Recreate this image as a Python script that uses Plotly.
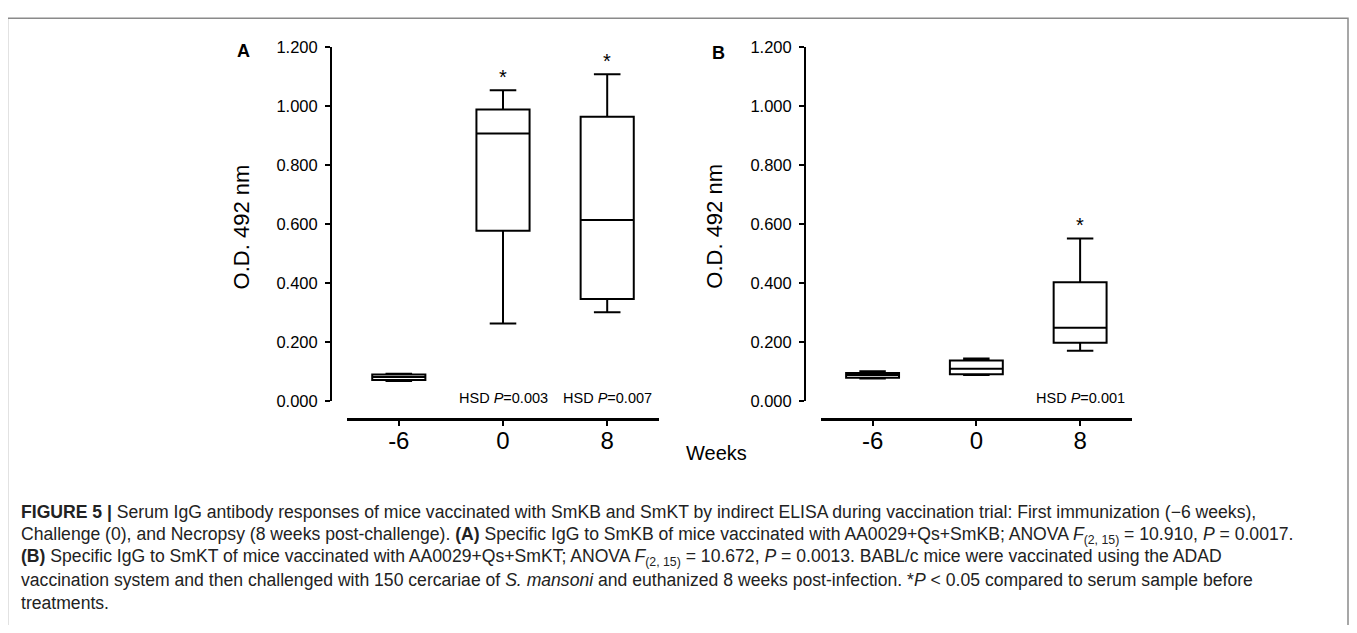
import plotly.graph_objects as go

# page has an 8px body margin; figure sized so the page is exactly 1357x633
OFF = 8
W, H = 1357 - 2 * OFF, 633 - 2 * OFF

weeks = ["-6", "0", "8"]
y_ticks = [0.0, 0.2, 0.4, 0.6, 0.8, 1.0, 1.2]

# Panel A: IgG to SmKB
a_low = [0.068, 0.263, 0.301]
a_q1 = [0.071, 0.577, 0.346]
a_med = [0.081, 0.907, 0.614]
a_q3 = [0.090, 0.988, 0.964]
a_high = [0.092, 1.054, 1.108]
a_star = [False, True, True]
a_hsd = ["", "HSD <i>P</i>=0.003", "HSD <i>P</i>=0.007"]

# Panel B: IgG to SmKT
b_low = [0.076, 0.088, 0.170]
b_q1 = [0.079, 0.091, 0.197]
b_med = [0.088, 0.109, 0.248]
b_q3 = [0.095, 0.137, 0.403]
b_high = [0.101, 0.144, 0.551]
b_star = [False, False, True]
b_hsd = ["", "", "HSD <i>P</i>=0.001"]

caption_lines = [
    "<b>FIGURE 5 |</b> Serum IgG antibody responses of mice vaccinated with SmKB and SmKT by indirect ELISA during vaccination trial: First immunization (\u22126 weeks),",
    "Challenge (0), and Necropsy (8 weeks post-challenge). <b>(A)</b> Specific IgG to SmKB of mice vaccinated with AA0029+Qs+SmKB; ANOVA <i>F</i><sub>(2, 15)</sub> = 10.910, <i>P</i> = 0.0017.",
    "<b>(B)</b> Specific IgG to SmKT of mice vaccinated with AA0029+Qs+SmKT; ANOVA <i>F</i><sub>(2, 15)</sub> = 10.672, <i>P</i> = 0.0013. BABL/c mice were vaccinated using the ADAD",
    "vaccination system and then challenged with 150 cercariae of <i>S. mansoni</i> and euthanized 8 weeks post-infection. *<i>P</i> &lt; 0.05 compared to serum sample before",
    "treatments.",
]

SANS = "Liberation Sans, Arial, Helvetica, sans-serif"


def px(x):
    return (x - OFF) / W


def py(y):
    return 1 - (y - OFF) / H


fig = go.Figure()

for xa, ya, low, q1, med, q3, high in [
    ("x", "y", a_low, a_q1, a_med, a_q3, a_high),
    ("x2", "y2", b_low, b_q1, b_med, b_q3, b_high),
]:
    fig.add_trace(go.Box(
        x=weeks, lowerfence=low, q1=q1, median=med, q3=q3, upperfence=high,
        xaxis=xa, yaxis=ya, width=0.51, whiskerwidth=0.5,
        fillcolor="white", line=dict(color="black", width=2),
        boxpoints=False, showlegend=False, hoverinfo="skip",
    ))

ydom = [py(403.5), py(39)]
axis_common = dict(showgrid=False, zeroline=False, showline=True, linecolor="black",
                   ticks="outside", tickcolor="black")
xcommon = dict(anchor="free", position=py(422), type="category", range=[-0.5, 2.5],
               linewidth=2.5, ticklen=5, tickwidth=2, ticklabelstandoff=-5,
               tickfont=dict(family=SANS, size=24, color="black"), **axis_common)
ycommon = dict(domain=ydom, anchor="free", range=[0, 1.2], tickvals=y_ticks, tickformat=".3f",
               linewidth=2, ticklen=5, tickwidth=2, ticklabelstandoff=4,
               tickfont=dict(family=SANS, size=16.5, color="black"), **axis_common)

fig.update_layout(
    width=W, height=H, margin=dict(l=0, r=0, t=0, b=0),
    paper_bgcolor="white", plot_bgcolor="rgba(0,0,0,0)",
    xaxis=dict(domain=[px(346.7), px(659.3)], **xcommon),
    xaxis2=dict(domain=[px(820.7), px(1132)], **xcommon),
    yaxis=dict(position=px(331), **ycommon),
    yaxis2=dict(position=px(805), **ycommon),
)

ann = []
for xa, ya, high, star, hsd in [("x", "y", a_high, a_star, a_hsd), ("x2", "y2", b_high, b_star, b_hsd)]:
    for i, (h, s, t) in enumerate(zip(high, star, hsd)):
        if s:
            ann.append(dict(x=i, y=h, xref=xa, yref=ya, text="*", showarrow=False,
                            yanchor="bottom", yshift=0, font=dict(family=SANS, size=20, color="black")))
        if t:
            ann.append(dict(x=i, y=py(400), xref=xa, yref="paper", text=t, showarrow=False,
                            yanchor="middle", font=dict(family=SANS, size=14.5, color="black")))

for xc in [241.7, 715]:
    ann.append(dict(x=px(xc), y=py(224), xref="paper", yref="paper", text="O.D. 492 nm",
                    textangle=-90, showarrow=False, xanchor="center", yanchor="middle",
                    font=dict(family=SANS, size=22, color="black")))
ann.append(dict(x=px(243), y=py(43), xref="paper", yref="paper", text="<b>A</b>", showarrow=False,
                xanchor="center", yanchor="middle", font=dict(family=SANS, size=18, color="black")))
ann.append(dict(x=px(718), y=py(45), xref="paper", yref="paper", text="<b>B</b>", showarrow=False,
                xanchor="center", yanchor="middle", font=dict(family=SANS, size=18, color="black")))
ann.append(dict(x=px(717), y=py(457), xref="paper", yref="paper", text="Weeks", showarrow=False,
                xanchor="center", yanchor="middle", font=dict(family=SANS, size=20, color="black")))

for i, line in enumerate(caption_lines):
    ann.append(dict(x=px(19), y=py(518.3 + i * 23.3), xref="paper", yref="paper", text=line,
                    xanchor="left", yanchor="middle", showarrow=False, align="left",
                    font=dict(family=SANS, size=17.6, color="#222222")))

fig.update_layout(annotations=ann)

fig.add_shape(type="rect", xref="paper", yref="paper", x0=px(7.5), x1=px(1348), y0=-0.2, y1=py(9.3),
              line=dict(color="#8a8a8a", width=1.5), fillcolor="rgba(0,0,0,0)", layer="below")

fig.write_html("out.html")
